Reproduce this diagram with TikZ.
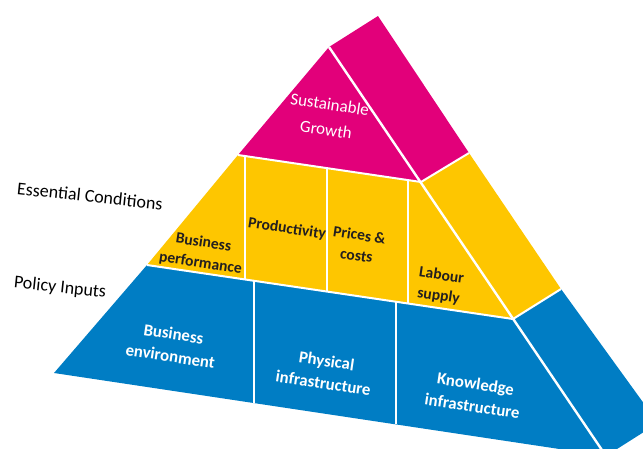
\documentclass[tikz,border=0pt]{standalone}
\usepackage{fontspec}
\setmainfont{Carlito}
\definecolor{pmag}{RGB}{226,0,122}
\definecolor{pyel}{RGB}{254,198,0}
\definecolor{pblu}{RGB}{0,125,196}
\definecolor{ptxt}{RGB}{35,31,32}
\begin{document}
\begin{tikzpicture}[x=1pt,y=-1pt,
  sep/.style={draw=white,line width=2pt},
  ridge/.style={draw=white,line width=2.4pt},
  inlab/.style={align=center,inner sep=0pt,rotate=-8.5,font=\fontsize{15}{20}\selectfont},
  yellab/.style={inlab,text=ptxt,font=\bfseries\fontsize{15.6}{20.5}\selectfont},
  blulab/.style={inlab,text=white,font=\bfseries\fontsize{16.8}{22.5}\selectfont},
  maglab/.style={inlab,text=white,font=\fontsize{17}{25.5}\selectfont},
  sidelab/.style={inner sep=0pt,rotate=-6,text=black,font=\fontsize{18}{21}\selectfont}]
\useasboundingbox (0,0) rectangle (643,448);
\begin{scope}
\clip (0,0) rectangle (643,448);
% corner points
\coordinate (A) at (329,47);
\coordinate (B) at (378,16);
\coordinate (L1) at (238,155);
\coordinate (L2) at (147,265);
\coordinate (L3) at (54,373);
\coordinate (R1) at (421,182);
\coordinate (R2) at (513,319);
\coordinate (R3) at (606,456);
\coordinate (S1) at (469,153);
\coordinate (S2) at (561,289);
\coordinate (S3) at (658,423);
% dividers
\coordinate (D1t) at (245,156.0);
\coordinate (D1b) at (245,280.0);
\coordinate (D2t) at (327,168.1);
\coordinate (D2b) at (327,291.6);
\coordinate (D3t) at (408,180.1);
\coordinate (D3b) at (408,303.5);
\coordinate (E1t) at (254,280.8);
\coordinate (E1b) at (254,403.1);
\coordinate (E2t) at (396,301.7);
\coordinate (E2b) at (396,424.4);
% faces
\fill[pmag] (A) -- (L1) -- (R1) -- cycle;
\fill[pmag] (A) -- (B) -- (S1) -- (R1) -- cycle;
\fill[pyel] (L1) -- (L2) -- (R2) -- (R1) -- cycle;
\fill[pyel] (R1) -- (S1) -- (S2) -- (R2) -- cycle;
\fill[pblu] (L2) -- (L3) -- (R3) -- (R2) -- cycle;
\fill[pblu] (R2) -- (S2) -- (S3) -- (R3) -- cycle;
% white separators
\draw[sep] (L1) -- (R1) -- (S1);
\draw[sep] (L2) -- (R2) -- (S2);
\draw[ridge] (A) -- (R3);
\draw[sep] (D1t) -- (D1b);
\draw[sep] (D2t) -- (D2b);
\draw[sep] (D3t) -- (D3b);
\draw[sep] (E1t) -- (E1b);
\draw[sep] (E2t) -- (E2b);
\end{scope}
% labels
\node[maglab] (sg) at (328,117) {Sustainable\\Growth};
\node[yellab] (bp) at (202,253) {Business\\performance};
\node[yellab] (prod) at (287,229) {Productivity};
\node[yellab] (pc) at (358,245) {Prices \&\\costs};
\node[yellab] (ls) at (440,286) {Labour\\supply};
\node[blulab] (be) at (172,345) {Business\\environment};
\node[blulab] (pi) at (325,372) {Physical\\infrastructure};
\node[blulab] (ki) at (474,395) {Knowledge\\infrastructure};
\node[sidelab] (ec) at (90,196) {Essential Conditions};
\node[sidelab] (pin) at (60,288) {Policy Inputs};
\end{tikzpicture}
\end{document}
